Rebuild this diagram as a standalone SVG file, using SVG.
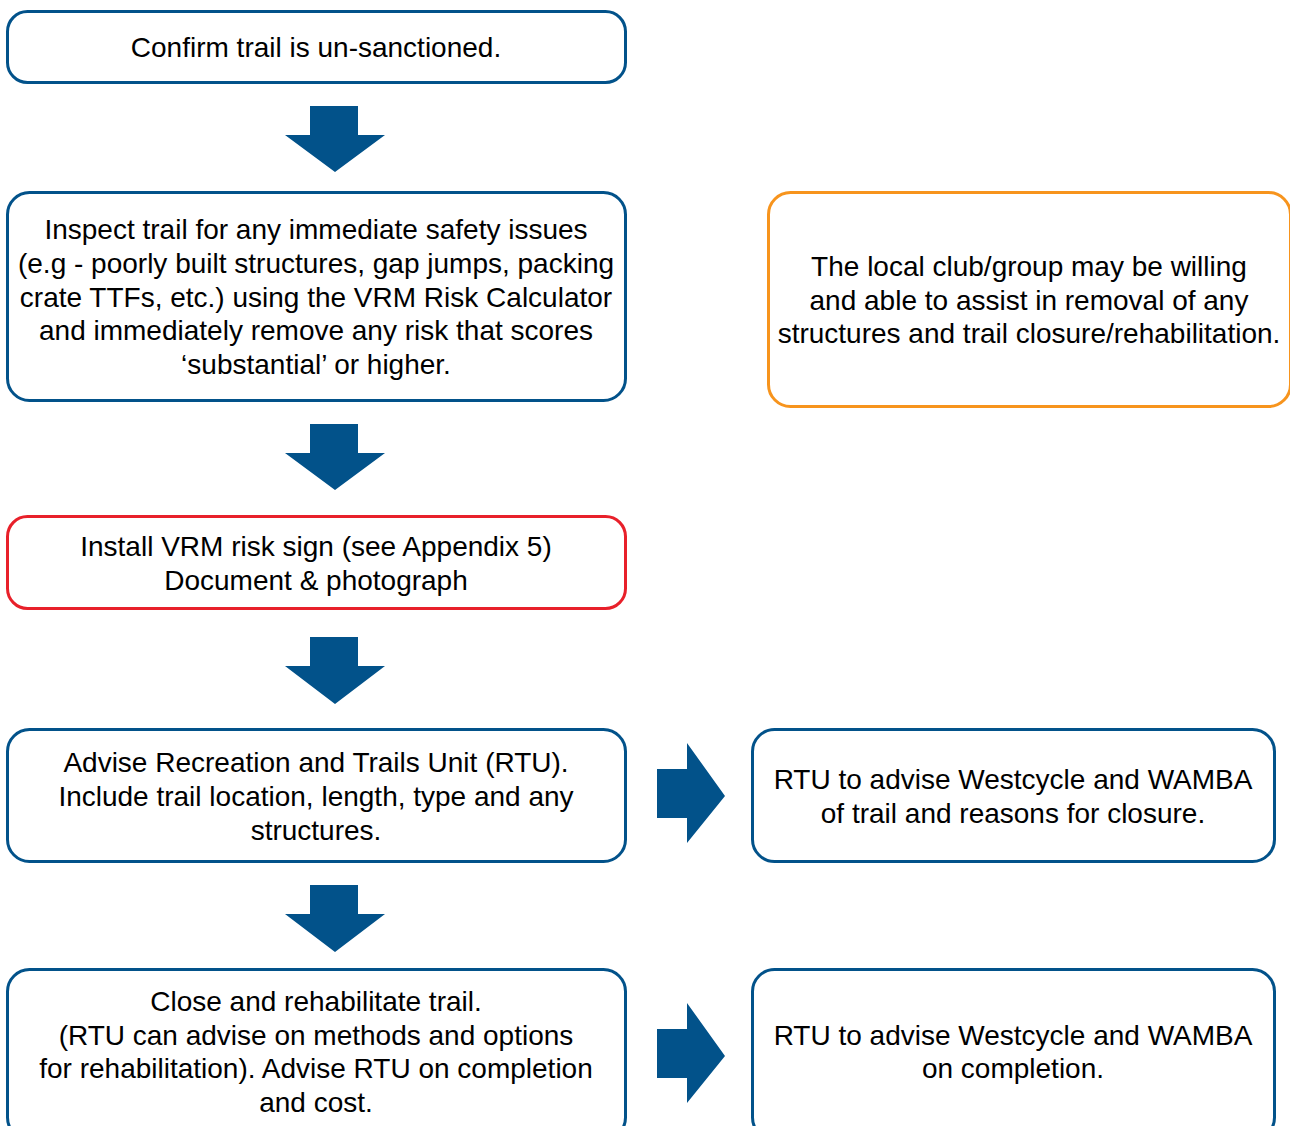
<svg xmlns="http://www.w3.org/2000/svg" width="1290" height="1126" viewBox="0 0 1290 1126">
<style>
.box{fill:#fff;stroke:#02528a;stroke-width:3}
.orange{stroke:#f7941d}
.red{stroke:#e8202a}
.arr{fill:#02528a}
text{font-family:"Liberation Sans",Arial,sans-serif;font-size:28px;fill:#000;text-anchor:middle}
</style>
<rect width="1290" height="1126" fill="#fff"/>
<g id="connectors">
<polygon class="arr" points="310,106 358,106 358,135 385,135 335,172 285,135 310,135"/>
<polygon class="arr" points="310,424 358,424 358,453 385,453 335,490 285,453 310,453"/>
<polygon class="arr" points="310,637 358,637 358,666 385,666 335,704 285,666 310,666"/>
<polygon class="arr" points="310,885 358,885 358,914 385,914 335,952 285,914 310,914"/>
<polygon class="arr" points="657,769 687,769 687,743 725,796 687,843 687,818 657,818"/>
<polygon class="arr" points="657,1029 687,1029 687,1003 725,1056 687,1103 687,1078 657,1078"/>
</g>
<g id="n1">
<rect class="box" x="7.5" y="11.5" width="618" height="71" rx="20"/>
<text x="316" y="57">Confirm trail is un-sanctioned.</text>
</g>
<g id="n2">
<rect class="box" x="7.5" y="192.5" width="618" height="208" rx="22"/>
<text x="316" y="239">Inspect trail for any immediate safety issues</text>
<text x="316" y="273">(e.g - poorly built structures, gap jumps, packing</text>
<text x="316" y="307">crate TTFs, etc.) using the VRM Risk Calculator</text>
<text x="316" y="340">and immediately remove any risk that scores</text>
<text x="316" y="374">‘substantial’ or higher.</text>
</g>
<g id="n3">
<rect class="box orange" x="768.5" y="192.5" width="522" height="214" rx="22"/>
<text x="1029" y="276">The local club/group may be willing</text>
<text x="1029" y="310">and able to assist in removal of any</text>
<text x="1029" y="343">structures and trail closure/rehabilitation.</text>
</g>
<g id="n4">
<rect class="box red" x="7.5" y="516.5" width="618" height="92" rx="20"/>
<text x="316" y="556">Install VRM risk sign (see Appendix 5)</text>
<text x="316" y="590">Document &amp; photograph</text>
</g>
<g id="n5">
<rect class="box" x="7.5" y="729.5" width="618" height="132" rx="22"/>
<text x="316" y="772">Advise Recreation and Trails Unit (RTU).</text>
<text x="316" y="806">Include trail location, length, type and any</text>
<text x="316" y="840">structures.</text>
</g>
<g id="n6">
<rect class="box" x="752.5" y="729.5" width="522" height="132" rx="22"/>
<text x="1013" y="789">RTU to advise Westcycle and WAMBA</text>
<text x="1013" y="823">of trail and reasons for closure.</text>
</g>
<g id="n7">
<rect class="box" x="7.5" y="969.5" width="618" height="170" rx="22"/>
<text x="316" y="1011">Close and rehabilitate trail.</text>
<text x="316" y="1045">(RTU can advise on methods and options</text>
<text x="316" y="1078">for rehabilitation). Advise RTU on completion</text>
<text x="316" y="1112">and cost.</text>
</g>
<g id="n8">
<rect class="box" x="752.5" y="969.5" width="522" height="170" rx="22"/>
<text x="1013" y="1045">RTU to advise Westcycle and WAMBA</text>
<text x="1013" y="1078">on completion.</text>
</g>
</svg>
